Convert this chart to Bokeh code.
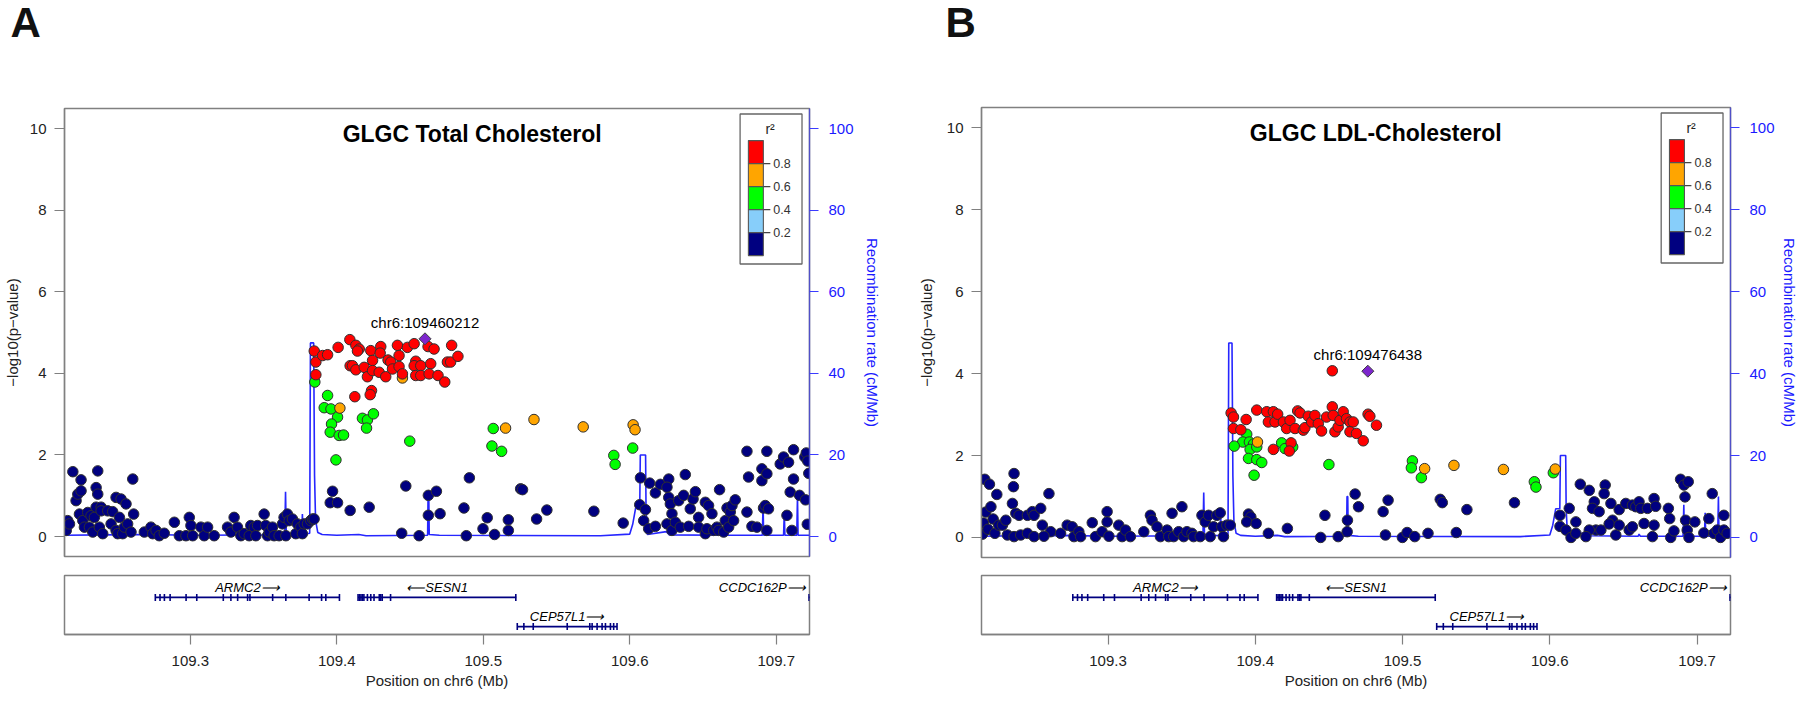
from bokeh.plotting import figure
from bokeh.models import (Range1d, LinearAxis, FixedTicker, PrintfTickFormatter, Label)
from bokeh.layouts import row, column
from bokeh.embed import file_html
from bokeh.resources import INLINE
from bokeh.core.properties import value

FONT = "Liberation Sans"
X_START, X_END = 109.2141, 109.7227
Y_LO, Y_HI = -0.49, 10.5
LD_COLORS = ["#000080", "#87CEFA", "#00FF00", "#FFA500", "#FF0000"]
LD_TICKS = [0.2, 0.4, 0.6, 0.8]
LOGP_TICKS = [0, 2, 4, 6, 8, 10]
RECOMB_TICKS = [0, 20, 40, 60, 80, 100]
POS_TICKS = [109.3, 109.4, 109.5, 109.6, 109.7]

PANEL_LETTERS = ["A", "B"]
TITLES = ["GLGC Total Cholesterol", "GLGC LDL-Cholesterol"]
LEAD_LABELS = ["chr6:109460212", "chr6:109476438"]
LEAD_POS = [109.460212, 109.476438]
LEAD_LOGP = [4.85, 4.06]

# ---------------- recombination rate (cM/Mb) ----------------
RECOMB_POS = [109.2141, 109.2400, 109.2700, 109.3000, 109.3600, 109.3645, 109.3650, 109.3655,
              109.3700, 109.3760, 109.3765, 109.3770, 109.3815, 109.3820, 109.3842, 109.3848,
              109.3855, 109.3870, 109.3900, 109.4000, 109.4150, 109.4200, 109.4620, 109.4623,
              109.4628, 109.4631, 109.4700, 109.5800, 109.6000, 109.6020, 109.6040, 109.6068,
              109.6072, 109.6108, 109.6111, 109.6120, 109.6250, 109.6270, 109.6600, 109.6606,
              109.6615, 109.6905, 109.6910, 109.6914, 109.7050, 109.7055, 109.7059, 109.7140,
              109.7145, 109.7149, 109.7227]
RECOMB_RATE = [0.3, 0.4, 0.5, 0.3, 0.4, 0.6, 11.0, 0.8,
               0.4, 0.5, 5.5, 0.5, 0.8, 47.5, 47.5, 15.0,
               4.0, 1.0, 0.5, 0.3, 0.5, 0.2, 0.3, 10.0,
               10.0, 0.5, 0.3, 0.2, 0.6, 3.0, 7.0, 7.0,
               20.0, 20.0, 7.0, 0.5, 1.2, 0.4, 0.3, 0.8,
               0.3, 0.3, 8.0, 0.3, 0.3, 6.0, 0.3, 0.3,
               10.0, 0.3, 0.3]

# ---------------- panel A: Total cholesterol ----------------
A_NAVY_POS = [
    109.2153, 109.2163, 109.2175, 109.2198, 109.2220, 109.2232, 109.2254, 109.2254, 109.2243, 109.2266,
    109.2277, 109.2300, 109.2311, 109.2322, 109.2334, 109.2345, 109.2357, 109.2368, 109.2357, 109.2368,
    109.2379, 109.2391, 109.2402, 109.2391, 109.2436, 109.2459, 109.2470, 109.2493, 109.2493, 109.2504,
    109.2516, 109.2527, 109.2538, 109.2550, 109.2561, 109.2572, 109.2595, 109.2607, 109.2613, 109.2686,
    109.2731, 109.2743, 109.2766, 109.2788, 109.2822, 109.2891, 109.2925, 109.2970, 109.2993, 109.3004,
    109.3016, 109.3072, 109.3095, 109.3118, 109.3163, 109.3254, 109.3277, 109.3299, 109.3322, 109.3345,
    109.3368, 109.3402, 109.3413, 109.3436, 109.3447, 109.3459, 109.3504, 109.3515, 109.3527, 109.3538,
    109.3561, 109.3572, 109.3606, 109.3629, 109.3640, 109.3652, 109.3663, 109.3675, 109.3697, 109.3720,
    109.3731, 109.3754, 109.3765, 109.3777, 109.3800, 109.3822, 109.3834, 109.3845,
    109.3971, 109.3955, 109.4005, 109.4091, 109.4221, 109.4471, 109.4443, 109.4562, 109.4625, 109.4680,
    109.4625, 109.4705, 109.4868, 109.4884, 109.4905, 109.5027, 109.4998, 109.5077, 109.5171, 109.5171,
    109.5255, 109.5268, 109.5364, 109.5434, 109.5755, 109.5955, 109.6073, 109.6068, 109.6107, 109.6095,
    109.6136, 109.6129, 109.6175, 109.6175, 109.6209, 109.6266, 109.6254, 109.6266, 109.6277, 109.6288,
    109.6254, 109.6288, 109.6311, 109.6334, 109.6345, 109.6368, 109.6379, 109.6402, 109.6413, 109.6432,
    109.6448, 109.6470, 109.6470, 109.6516, 109.6516, 109.6538, 109.6527, 109.6561, 109.6573, 109.6595,
    109.6607, 109.6613, 109.6641, 109.6652, 109.6664, 109.6675, 109.6686, 109.6698, 109.6709, 109.6720,
    109.6800, 109.6800, 109.6811, 109.6834, 109.6868, 109.6902, 109.6902, 109.6913, 109.6925, 109.6936,
    109.6936, 109.6936, 109.6947, 109.7027, 109.7050, 109.7073, 109.7084, 109.7095, 109.7107, 109.7118,
    109.7118, 109.7159,
    109.7195, 109.7205, 109.7215, 109.7222, 109.7200, 109.7212]
A_NAVY_LOGP = [
    0.15, 0.39, 0.31, 1.59, 0.88, 1.04, 1.39, 1.12, 0.55, 0.39,
    0.23, 0.59, 0.23, 0.51, 0.11, 0.47, 0.72, 1.61, 1.20, 1.04,
    0.23, 0.72, 0.07, 0.63, 0.63, 0.31, 0.61, 0.96, 0.15, 0.07,
    0.47, 0.92, 0.07, 0.23, 0.80, 0.31, 0.11, 1.41, 0.55, 0.11,
    0.23, 0.07, 0.15, 0.02, 0.08, 0.35, 0.02, 0.02, 0.47, 0.27,
    0.02, 0.23, 0.02, 0.23, 0.02, 0.23, 0.11, 0.47, 0.23, 0.02,
    0.07, 0.02, 0.27, 0.23, 0.02, 0.27, 0.55, 0.27, 0.02, 0.11,
    0.23, 0.02, 0.02, 0.31, 0.47, 0.02, 0.55, 0.39, 0.43, 0.07,
    0.31, 0.23, 0.07, 0.31, 0.31, 0.39, 0.43, 0.43,
    1.11, 0.83, 0.83, 0.64, 0.72, 1.24, 0.08, 0.02, 1.01, 1.11,
    0.52, 0.56, 0.70, 0.02, 1.44, 0.46, 0.19, 0.05, 0.41, 0.15,
    1.17, 1.15, 0.43, 0.65, 0.62, 0.33, 1.44, 0.78, 0.66, 0.39,
    1.31, 0.19, 1.07, 0.25, 1.28, 1.41, 1.21, 0.96, 0.80, 0.56,
    0.31, 0.15, 0.35, 0.88, 0.23, 1.01, 1.52, 0.25, 0.68, 0.92,
    1.10, 0.47, 0.23, 0.07, 0.84, 0.76, 0.19, 0.56, 0.15, 0.23,
    0.15, 1.15, 0.11, 0.39, 0.70, 0.23, 0.60, 0.76, 0.39, 0.90,
    0.60, 2.09, 1.46, 0.25, 0.23, 1.66, 1.37, 0.70, 0.76, 2.09,
    1.54, 0.15, 0.68, 1.78, 1.95, 0.52, 1.82, 1.09, 0.15, 1.41,
    2.13, 1.01,
    1.95, 2.05, 1.85, 1.55, 0.90, 0.30]
A_GREEN_POS = [109.3850, 109.3937, 109.3914, 109.3960, 109.4005, 109.3964, 109.3955, 109.4016,
               109.4046, 109.3994, 109.4175, 109.4209, 109.4250, 109.4203, 109.4498, 109.5068,
               109.5059, 109.5125, 109.5891, 109.5900, 109.6020]
A_GREEN_LOGP = [3.79, 3.46, 3.16, 3.13, 2.93, 2.76, 2.56, 2.48,
                2.49, 1.88, 2.90, 2.86, 3.01, 2.66, 2.34, 2.65,
                2.22, 2.09, 1.99, 1.77, 2.17]
A_ORANGE_POS = [109.4448, 109.4021, 109.5152, 109.5346, 109.5682, 109.6023, 109.6036]
A_ORANGE_LOGP = [3.89, 3.15, 2.66, 2.87, 2.69, 2.74, 2.62]
A_RED_POS = [
    109.3846, 109.3857, 109.3857, 109.3903, 109.3937, 109.4009, 109.4089, 109.4130, 109.4153, 109.4141,
    109.4091, 109.4107, 109.4130, 109.4187, 109.4209, 109.4232, 109.4244, 109.4244, 109.4289, 109.4300,
    109.4296, 109.4334, 109.4350, 109.4368, 109.4380, 109.4414, 109.4425, 109.4425, 109.4448, 109.4482,
    109.4528, 109.4539, 109.4528, 109.4573, 109.4539, 109.4573, 109.4623, 109.4664, 109.4641, 109.4630,
    109.4691, 109.4737, 109.4755, 109.4777, 109.4784, 109.4827, 109.4237, 109.4228, 109.4123]
A_RED_LOGP = [
    4.55, 4.28, 3.97, 4.44, 4.46, 4.64, 4.83, 4.69, 4.60, 4.55,
    4.19, 4.19, 4.09, 4.15, 3.92, 4.56, 4.32, 4.07, 4.03, 4.66,
    4.50, 3.92, 4.33, 4.28, 4.11, 4.69, 4.44, 4.17, 3.99, 4.64,
    4.73, 4.30, 4.19, 4.19, 3.95, 3.95, 4.66, 4.60, 4.24, 3.99,
    3.95, 3.79, 4.28, 4.28, 4.69, 4.42, 3.58, 3.48, 3.43]

# ---------------- panel B: LDL cholesterol ----------------
B_NAVY_POS = [
    109.2148, 109.2155, 109.2163, 109.2170, 109.2185, 109.2195, 109.2205, 109.2220, 109.2232, 109.2245,
    109.2258,
    109.2283, 109.2306, 109.2362, 109.2358, 109.2351, 109.2374, 109.2396, 109.2453, 109.2486, 109.2498,
    109.2543, 109.2554, 109.2599, 109.2611, 109.2317, 109.2362, 109.2407, 109.2453, 109.2498, 109.2565,
    109.2678, 109.2723, 109.2757, 109.2769, 109.2802, 109.2814, 109.2893, 109.2915, 109.2960, 109.2994,
    109.2994, 109.3006, 109.3073, 109.3096, 109.3119, 109.3152, 109.3243, 109.3288, 109.3299, 109.3333,
    109.3356, 109.3401, 109.3412, 109.3435, 109.3502, 109.3446, 109.3480, 109.3514, 109.3536, 109.3570,
    109.3581, 109.3626, 109.3638, 109.3660, 109.3683, 109.3694, 109.3717, 109.3739, 109.3762, 109.3773,
    109.3784, 109.3807, 109.3830, 109.3954, 109.3970, 109.3942, 109.4006, 109.4089, 109.4218, 109.4444,
    109.4473, 109.4563, 109.4624, 109.4626, 109.4678, 109.4701, 109.4868, 109.4884, 109.4902,
    109.4999, 109.5031, 109.5083, 109.5173, 109.5256, 109.5270, 109.5365, 109.5437, 109.5760, 109.6069,
    109.6069, 109.6110, 109.6132, 109.6144, 109.6177, 109.6177, 109.6207, 109.6268, 109.6302, 109.6290,
    109.6335, 109.6313, 109.6268, 109.6245, 109.6347, 109.6376, 109.6369, 109.6415, 109.6426, 109.6403,
    109.6448, 109.6471, 109.6471, 109.6516, 109.6539, 109.6561, 109.6561, 109.6584, 109.6606, 109.6618,
    109.6663, 109.6640, 109.6697, 109.6708, 109.6719, 109.6708, 109.6805, 109.6814, 109.6821, 109.6843,
    109.6888, 109.6911, 109.6918, 109.6940, 109.6922, 109.6933, 109.6945, 109.6985, 109.7046, 109.7080,
    109.7103, 109.7114, 109.7137, 109.7159, 109.7182, 109.7182, 109.7204]
B_NAVY_LOGP = [
    0.08, 0.35, 1.42, 0.62, 0.20, 1.30, 0.75, 0.45, 0.10, 1.05,
    0.30,
    0.30, 0.42, 1.56, 1.24, 0.83, 0.59, 0.54, 0.54, 0.63, 0.54,
    0.71, 0.30, 1.07, 0.14, 0.06, 0.02, 0.06, 0.10, 0.02, 0.03,
    0.10, 0.30, 0.26, 0.02, 0.14, 0.02, 0.36, 0.02, 0.14, 0.63,
    0.38, 0.03, 0.30, 0.02, 0.18, 0.02, 0.14, 0.54, 0.42, 0.26,
    0.02, 0.18, 0.02, 0.59, 0.75, 0.02, 0.14, 0.02, 0.14, 0.10,
    0.02, 0.02, 0.54, 0.38, 0.54, 0.02, 0.26, 0.54, 0.60, 0.26,
    0.02, 0.30, 0.30, 0.57, 0.50, 0.38, 0.34, 0.10, 0.22, 0.00,
    0.54, 0.02, 0.14, 0.42, 1.06, 0.75, 0.63, 0.06, 0.91,
    0.00, 0.12, 0.02, 0.10, 0.93, 0.85, 0.12, 0.68, 0.85, 0.54,
    0.27, 0.18, 0.71, 0.00, 0.38, 0.10, 1.30, 1.15, 0.87, 0.71,
    0.63, 0.18, 0.18, 0.02, 0.18, 1.28, 1.07, 0.83, 0.42, 0.33,
    0.06, 0.30, 0.68, 0.83, 0.18, 0.79, 0.26, 0.75, 0.87, 0.71,
    0.71, 0.34, 0.02, 0.95, 0.76, 0.30, 0.71, 0.46, 0.00, 0.16,
    1.42, 1.28, 0.99, 1.36, 0.42, 0.18, 0.00, 0.38, 0.11, 0.46,
    1.07, 0.10, 0.18, 0.00, 0.54, 0.18, 0.10]
B_GREEN_POS = [109.3942, 109.3915, 109.3857, 109.3960, 109.3988, 109.3965, 109.4010, 109.3954,
               109.4010, 109.4044, 109.3992, 109.4179, 109.4202, 109.4254, 109.4500,
               109.5067, 109.5060, 109.5128, 109.5895, 109.5906, 109.6024]
B_GREEN_LOGP = [2.52, 2.33, 2.23, 2.33, 2.28, 2.15, 2.21, 1.93,
                1.90, 1.83, 1.52, 2.31, 2.17, 2.21, 1.78,
                1.87, 1.70, 1.46, 1.36, 1.23, 1.58]
B_ORANGE_POS = [109.4015, 109.5150, 109.5349, 109.5685, 109.6037]
B_ORANGE_LOGP = [2.33, 1.68, 1.76, 1.66, 1.67]
B_RED_POS = [
    109.3836, 109.3852, 109.3852, 109.3902, 109.3938, 109.4010, 109.4078, 109.4089, 109.4123, 109.4134,
    109.4152, 109.4123, 109.4191, 109.4213, 109.4236, 109.4243, 109.4231, 109.4270, 109.4288, 109.4304,
    109.4326, 109.4337, 109.4360, 109.4383, 109.4405, 109.4428, 109.4450, 109.4484, 109.4523, 109.4529,
    109.4541, 109.4563, 109.4575, 109.4597, 109.4620, 109.4643, 109.4665, 109.4643, 109.4687, 109.4733,
    109.4766, 109.4778, 109.4823, 109.4523]
B_RED_LOGP = [
    3.04, 2.94, 2.66, 2.63, 2.88, 3.11, 3.07, 2.82, 3.07, 2.82,
    3.01, 2.15, 2.82, 2.66, 2.86, 2.31, 2.11, 2.66, 3.09, 3.04,
    2.62, 2.68, 2.96, 2.82, 2.98, 2.78, 2.60, 2.94, 3.19, 2.98,
    2.58, 2.70, 2.86, 3.07, 2.90, 2.82, 2.82, 2.58, 2.54, 2.36,
    3.01, 2.96, 2.74, 4.07]

# ---------------- genes ----------------
GENE_NAMES = ["ARMC2", "SESN1", "CEP57L1", "CCDC162P"]
GENE_START = [109.2761, 109.4145, 109.5232, 109.7222]
GENE_END = [109.4018, 109.5225, 109.5913, 109.7800]
GENE_STRAND = ["+", "-", "+", "+"]
GENE_ROW = [1, 1, 2, 1]
EXON_POS = [109.2761, 109.2793, 109.2823, 109.2862, 109.2971, 109.3044, 109.3225, 109.3277, 109.3323,
            109.3391, 109.3407, 109.3562, 109.3652, 109.3811, 109.3896, 109.3925, 109.4018,
            109.4145, 109.4155, 109.4165, 109.4175, 109.4185, 109.4209, 109.4232, 109.4254, 109.4290,
            109.4300, 109.4310, 109.4367, 109.5222,
            109.5232, 109.5277, 109.5341, 109.5573, 109.5727, 109.5743, 109.5777, 109.5811, 109.5834,
            109.5868, 109.5890, 109.5913,
            109.7224]
EXON_GENE = [0] * 17 + [1] * 13 + [2] * 12 + [3]

NAVY = "#000080"
PAGE_W = 1800
STRIP_H = 45


def style_axis(ax, color, line_color, tick_out, standoff, label_standoff):
    ax.axis_line_color = line_color
    ax.axis_line_width = 1.3
    ax.major_tick_line_color = line_color
    ax.major_tick_line_width = 1.2
    ax.minor_tick_line_color = None
    ax.major_tick_out = tick_out
    ax.major_tick_in = 0
    ax.major_label_text_font = FONT
    ax.major_label_text_font_size = "15px"
    ax.major_label_text_color = color
    ax.major_label_standoff = standoff
    ax.axis_label_text_font = FONT
    ax.axis_label_text_font_size = "15px"
    ax.axis_label_text_font_style = "normal"
    ax.axis_label_text_color = color
    ax.axis_label_standoff = label_standoff


def add_ld_key(p, fw, fh):
    # key drawn in a pixel coordinate system whose origin is the frame's top-right corner
    p.extra_x_ranges["key_x"] = Range1d(-fw, 0)
    p.extra_y_ranges["key_y"] = Range1d(-fh, 0)
    kw = dict(x_range_name="key_x", y_range_name="key_y")
    box_r, box_t, box_w, box_h = -7.5, -5.5, 62, 150
    box_l = box_r - box_w
    p.quad(left=[box_l], right=[box_r], top=[box_t], bottom=[box_t - box_h],
           fill_color="white", line_color="#666666", line_width=1.3, **kw)
    sw_l, sw_w, sw_h = box_l + 8.3, 15, 23
    sw_top0 = box_t - 26.6
    n = len(LD_COLORS)
    tops = [sw_top0 - i * sw_h for i in range(n)]
    cols = list(reversed(LD_COLORS))
    p.quad(left=[sw_l] * n, right=[sw_l + sw_w] * n, top=tops, bottom=[t - sw_h for t in tops],
           fill_color=cols, line_color="#555555", line_width=1.1, **kw)
    tick_y = [sw_top0 - (i + 1) * sw_h for i in range(len(LD_TICKS))]
    tick_lab = ["%.1f" % t for t in reversed(LD_TICKS)]
    p.segment(x0=[sw_l + sw_w] * len(tick_y), y0=tick_y, x1=[sw_l + sw_w + 7] * len(tick_y), y1=tick_y,
              line_color="#444444", line_width=1.1, **kw)
    p.text(x=[sw_l + sw_w + 10] * len(tick_y), y=tick_y, text=tick_lab, text_align="left",
           text_baseline="middle", text_font=value(FONT), text_font_size="12.5px",
           text_color="#333333", **kw)
    p.text(x=[box_l + 30], y=[box_t - 15], text=["r\u00b2"], text_align="center",
           text_baseline="middle", text_font=value(FONT), text_font_size="14px",
           text_color="#222222", **kw)


def make_main(idx, bins, geom, title_x, ylab_standoff, r_standoff, r_lab_standoff):
    left, fw, right, top, fh, bottom = geom
    p = figure(width=left + fw + right, height=top + fh + bottom,
               x_range=Range1d(X_START, X_END), y_range=Range1d(Y_LO, Y_HI),
               output_backend="svg", toolbar_location=None, x_axis_location=None,
               min_border_left=left, min_border_right=right,
               min_border_top=top, min_border_bottom=bottom)
    p.grid.visible = False
    p.outline_line_color = "#808080"
    p.outline_line_width = 1.5
    p.background_fill_color = "white"
    p.border_fill_color = "white"

    p.extra_y_ranges = {"recomb": Range1d(Y_LO * 10, Y_HI * 10)}
    p.line(RECOMB_POS, RECOMB_RATE, y_range_name="recomb", line_color="#2626FF", line_width=1.6)

    for (pos, logp), col in zip(bins, [LD_COLORS[0], LD_COLORS[2], LD_COLORS[3], LD_COLORS[4]]):
        p.scatter(pos, logp, marker="circle", size=10.5, fill_color=col,
                  line_color="#303030", line_width=1)

    p.scatter([LEAD_POS[idx]], [LEAD_LOGP[idx]], marker="square", angle=0.7854, size=8.5,
              fill_color="#7D26CD", line_color="#404040", line_width=1)
    p.text([LEAD_POS[idx]], [LEAD_LOGP[idx]], [LEAD_LABELS[idx]], y_offset=-8,
           text_align="center", text_baseline="bottom", text_font=value(FONT),
           text_font_size="15px", text_color="black")

    ya = p.yaxis[0]
    ya.ticker = FixedTicker(ticks=LOGP_TICKS)
    ya.axis_label = "\u2212log10(p\u2212value)"
    style_axis(ya, "#222222", "#808080", 10, 8, ylab_standoff)

    ra = LinearAxis(y_range_name="recomb", ticker=FixedTicker(ticks=RECOMB_TICKS),
                    axis_label="Recombination rate (cM/Mb)")
    style_axis(ra, "#1a1aff", "#5050C8", 9, r_standoff, r_lab_standoff)
    ra.major_tick_line_color = "#3a3aff"
    p.add_layout(ra, "right")

    p.add_layout(Label(x=title_x, y=9.88, text=TITLES[idx], text_align="center",
                       text_baseline="middle", text_font=FONT, text_font_style="bold",
                       text_font_size="23px", text_color="black"))
    add_ld_key(p, fw, fh)
    return p


def make_genes(x_range, geom):
    left, fw, right, top, fh, bottom = geom
    g = figure(width=left + fw + right, height=top + fh + bottom,
               x_range=x_range, y_range=Range1d(2.27, 0.25),
               output_backend="svg", toolbar_location=None, y_axis_location=None,
               min_border_left=left, min_border_right=right,
               min_border_top=top, min_border_bottom=bottom)
    g.grid.visible = False
    g.outline_line_color = "#808080"
    g.outline_line_width = 1.5
    g.segment(x0=GENE_START, y0=GENE_ROW, x1=GENE_END, y1=GENE_ROW,
              line_color=NAVY, line_width=1.6)
    g.rect(x=EXON_POS, y=[GENE_ROW[i] for i in EXON_GENE], width=1.6, height=7,
           width_units="screen", height_units="screen", fill_color=NAVY, line_color=None)

    for name, s, e, strand, r in zip(GENE_NAMES, GENE_START, GENE_END, GENE_STRAND, GENE_ROW):
        txt = name + "\u27f6" if strand == "+" else "\u27f5" + name
        if e > X_END:
            x, al, dx = s, "right", -3
        else:
            x, al, dx = (s + e) / 2, "center", 0
        g.text([x], [r], [txt], x_offset=dx, y_offset=-10, text_align=al, text_baseline="middle",
               text_font=value(FONT), text_font_style="italic", text_font_size="13px",
               text_color="black")

    xa = g.xaxis[0]
    xa.ticker = FixedTicker(ticks=POS_TICKS)
    xa.formatter = PrintfTickFormatter(format="%.1f")
    xa.axis_label = "Position on chr6 (Mb)"
    style_axis(xa, "#222222", "#808080", 10, 11, 3)
    return g


def make_strip(letters, letter_x):
    s = figure(width=PAGE_W, height=STRIP_H, x_range=Range1d(0, PAGE_W), y_range=Range1d(0, STRIP_H),
               output_backend="svg", toolbar_location=None, x_axis_location=None,
               y_axis_location=None, min_border=0)
    s.grid.visible = False
    s.outline_line_color = None
    s.text(letter_x, [STRIP_H - 21.5] * len(letters), letters, text_align="left",
           text_baseline="middle", text_font=value(FONT), text_font_style="bold",
           text_font_size="42px", text_color="#111111")
    return s


A_BINS = [(A_NAVY_POS, A_NAVY_LOGP), (A_GREEN_POS, A_GREEN_LOGP),
          (A_ORANGE_POS, A_ORANGE_LOGP), (A_RED_POS, A_RED_LOGP)]
B_BINS = [(B_NAVY_POS, B_NAVY_LOGP), (B_GREEN_POS, B_GREEN_LOGP),
          (B_ORANGE_POS, B_ORANGE_LOGP), (B_RED_POS, B_RED_LOGP)]

strip = make_strip(PANEL_LETTERS, [10, 945])
main_a = make_main(0, A_BINS, (63, 746, 91, 108 - STRIP_H, 448, 9), 109.4924, 6, 10, 7)
gene_a = make_genes(main_a.x_range, (63, 746, 91, 10, 59, 67))
main_b = make_main(1, B_BINS, (81, 751, 68, 107 - STRIP_H, 450, 8), 109.4818, 9, 10, 3)
gene_b = make_genes(main_b.x_range, (81, 751, 68, 10, 59, 67))

layout = column(strip, row(column(main_a, gene_a), column(main_b, gene_b)))
open("out.html", "w").write(file_html(layout, INLINE))
